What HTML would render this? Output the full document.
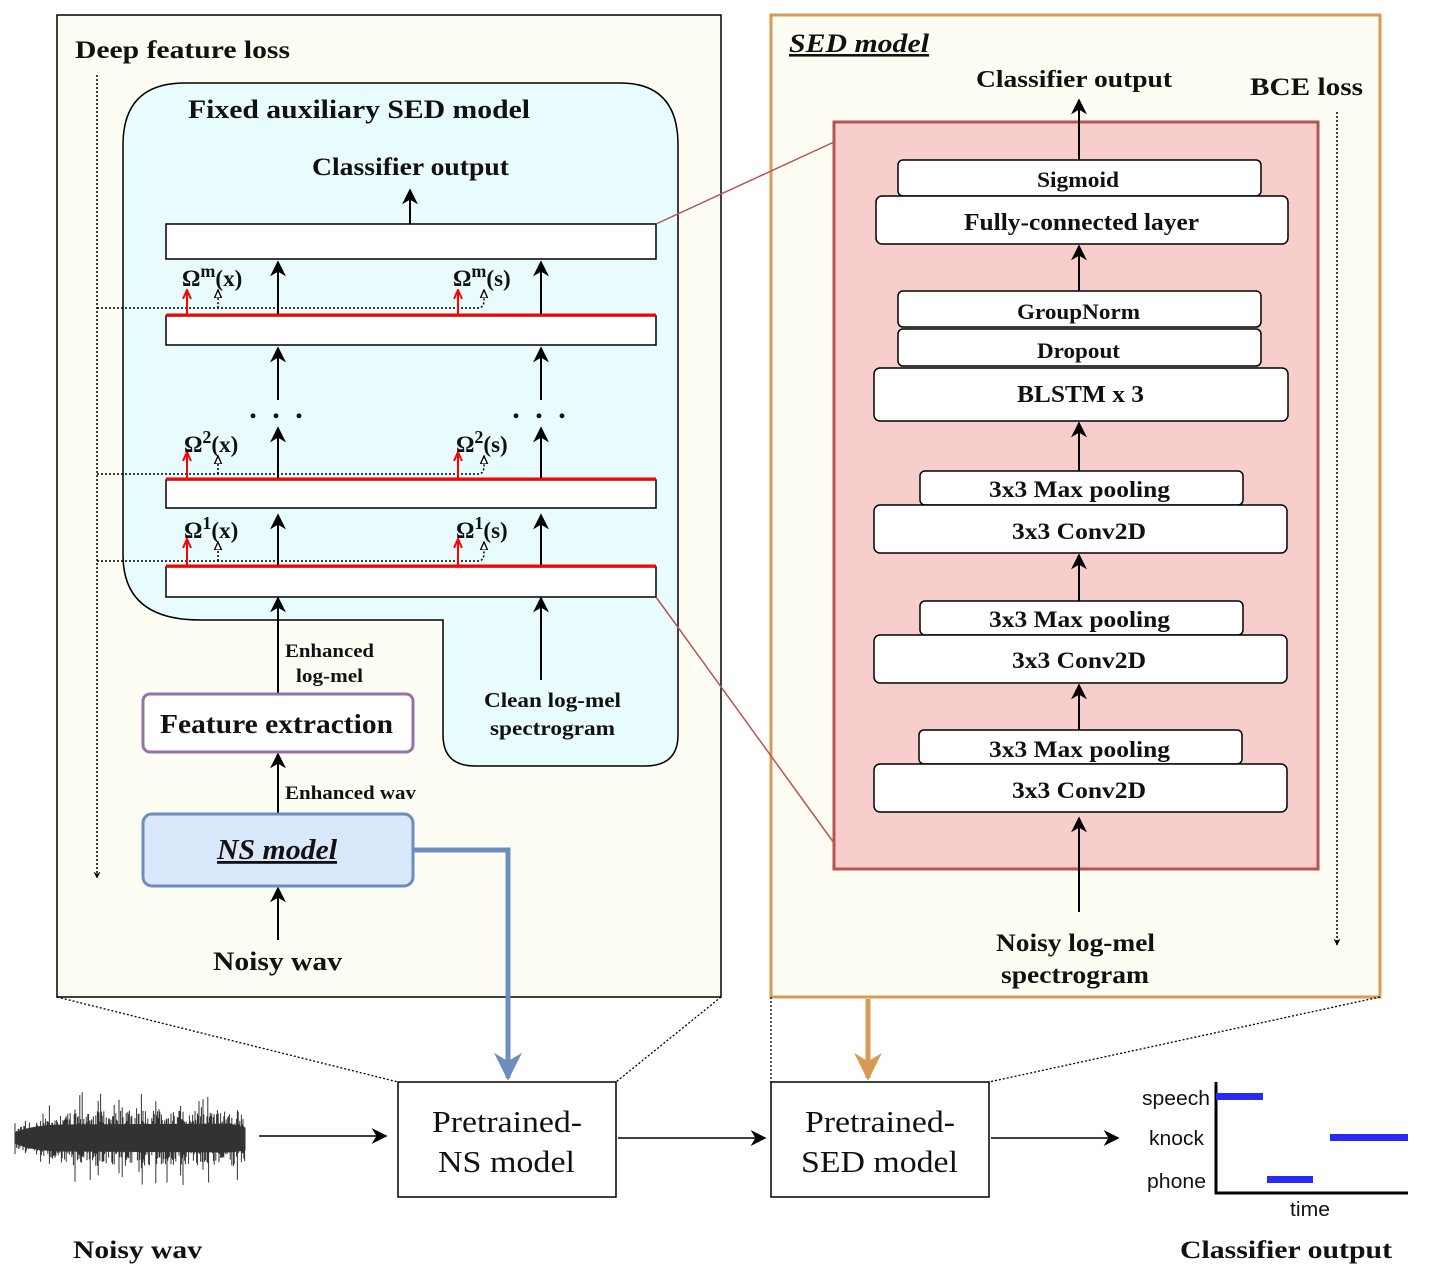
<!DOCTYPE html>
<html><head><meta charset="utf-8"><style>
html,body{margin:0;padding:0;background:#fff}
svg{display:block}
text{font-family:"Liberation Serif",serif;font-weight:bold;fill:#111}
.s{font-family:"Liberation Sans",sans-serif;font-weight:normal}
</style></head><body>
<svg id="sv" width="1432" height="1278" viewBox="0 0 1432 1278" xmlns="http://www.w3.org/2000/svg">
<defs>
<marker id="a" viewBox="0 0 10 10" refX="9" refY="5" markerWidth="7" markerHeight="8" orient="auto" markerUnits="userSpaceOnUse"><path d="M0,0 L10,5 L0,10 L3,5z" fill="#000"/></marker>
<marker id="ab" viewBox="0 0 10 10" refX="9" refY="5" markerWidth="18" markerHeight="16" orient="auto" markerUnits="userSpaceOnUse"><path d="M0,0 L10,5 L0,10 L3,5z" fill="#000"/></marker>
<marker id="ar" viewBox="0 0 10 10" refX="9" refY="5" markerWidth="10" markerHeight="10" orient="auto" markerUnits="userSpaceOnUse"><path d="M0,1 L9,5 L0,9" fill="none" stroke="#f00" stroke-width="2"/></marker>
<marker id="ad" viewBox="0 0 10 10" refX="9" refY="5" markerWidth="9" markerHeight="9" orient="auto" markerUnits="userSpaceOnUse"><path d="M0,1 L9,5 L0,9z" fill="#fff" stroke="#000" stroke-width="1.5"/></marker>
<marker id="blue" viewBox="0 0 10 10" refX="9" refY="5" markerWidth="28" markerHeight="28" orient="auto" markerUnits="userSpaceOnUse"><path d="M0,0 L10,5 L0,10 L3,5z" fill="#6c8ebf"/></marker>
<marker id="org" viewBox="0 0 10 10" refX="9" refY="5" markerWidth="28" markerHeight="28" orient="auto" markerUnits="userSpaceOnUse"><path d="M0,0 L10,5 L0,10 L3,5z" fill="#d79b56"/></marker>
</defs>

<!-- left panel -->
<rect x="57" y="15" width="664" height="982" fill="#fdfdf3" stroke="#000" stroke-width="1.5"/>
<text x="75" y="58" font-size="25" textLength="215" lengthAdjust="spacingAndGlyphs">Deep feature loss</text>
<path d="M123,145 Q123,83 185,83 L620,83 Q678,83 678,145 L678,735 Q678,766 645,766 L475,766 Q443,766 443,735 L443,620 L200,620 Q123,620 123,555 Z" fill="#e8fbfd" stroke="#000" stroke-width="1.5"/>
<text x="188" y="118" font-size="26" textLength="342" lengthAdjust="spacingAndGlyphs">Fixed auxiliary SED model</text>
<text x="312" y="175" font-size="25" textLength="197" lengthAdjust="spacingAndGlyphs">Classifier output</text>
<line x1="410" y1="224" x2="410" y2="190" stroke="#000" stroke-width="2" marker-end="url(#ab)"/>

<rect x="166" y="224" width="490" height="35" fill="#fff" stroke="#000" stroke-width="1.5"/>
<rect x="166" y="316" width="490" height="29" fill="#fff" stroke="#000" stroke-width="1.5"/>
<rect x="166" y="480" width="490" height="28" fill="#fff" stroke="#000" stroke-width="1.5"/>
<rect x="166" y="567" width="490" height="30" fill="#fff" stroke="#000" stroke-width="1.5"/>
<g stroke="#f00" stroke-width="3"><line x1="166" y1="315" x2="656" y2="315"/><line x1="166" y1="479" x2="656" y2="479"/><line x1="166" y1="566" x2="656" y2="566"/></g>

<g stroke="#000" stroke-width="1.5" stroke-dasharray="2,2" fill="none">
<line x1="97" y1="75" x2="97" y2="878" marker-end="url(#a)"/>
<path d="M97,308 L478,308 Q484,308 484,300 L484,290" marker-end="url(#ad)"/>
<path d="M218,308 Q218,300 218,290" marker-end="url(#ad)"/>
<path d="M97,474 L478,474 Q484,474 484,466 L484,456" marker-end="url(#ad)"/>
<path d="M218,474 L218,456" marker-end="url(#ad)"/>
<path d="M97,561 L478,561 Q484,561 484,553 L484,542" marker-end="url(#ad)"/>
<path d="M218,561 L218,542" marker-end="url(#ad)"/>
</g>
<g stroke="#f00" stroke-width="2">
<line x1="187" y1="314" x2="187" y2="290" marker-end="url(#ar)"/>
<line x1="458" y1="314" x2="458" y2="290" marker-end="url(#ar)"/>
<line x1="187" y1="478" x2="187" y2="452" marker-end="url(#ar)"/>
<line x1="458" y1="478" x2="458" y2="452" marker-end="url(#ar)"/>
<line x1="187" y1="565" x2="187" y2="539" marker-end="url(#ar)"/>
<line x1="458" y1="565" x2="458" y2="539" marker-end="url(#ar)"/>
</g>
<g stroke="#000" stroke-width="2">
<line x1="278" y1="314" x2="278" y2="262" marker-end="url(#ab)"/>
<line x1="541" y1="314" x2="541" y2="262" marker-end="url(#ab)"/>
<line x1="278" y1="400" x2="278" y2="348" marker-end="url(#ab)"/>
<line x1="541" y1="400" x2="541" y2="348" marker-end="url(#ab)"/>
<line x1="278" y1="478" x2="278" y2="428" marker-end="url(#ab)"/>
<line x1="541" y1="478" x2="541" y2="428" marker-end="url(#ab)"/>
<line x1="278" y1="565" x2="278" y2="515" marker-end="url(#ab)"/>
<line x1="541" y1="565" x2="541" y2="515" marker-end="url(#ab)"/>
<line x1="278" y1="694" x2="278" y2="598" marker-end="url(#ab)"/>
<line x1="541" y1="680" x2="541" y2="598" marker-end="url(#ab)"/>
<line x1="278" y1="814" x2="278" y2="754" marker-end="url(#ab)"/>
<line x1="278" y1="940" x2="278" y2="888" marker-end="url(#ab)"/>
</g>
<text x="278" y="418" font-size="30" text-anchor="middle" letter-spacing="4">. . .</text>
<text x="541" y="418" font-size="30" text-anchor="middle" letter-spacing="4">. . .</text>
<g font-size="23">
<text x="182" y="286">Ω<tspan font-size="18" dy="-9">m</tspan><tspan dy="9">(x)</tspan></text>
<text x="453" y="286">Ω<tspan font-size="18" dy="-9">m</tspan><tspan dy="9">(s)</tspan></text>
<text x="184" y="452">Ω<tspan font-size="18" dy="-9">2</tspan><tspan dy="9">(x)</tspan></text>
<text x="456" y="452">Ω<tspan font-size="18" dy="-9">2</tspan><tspan dy="9">(s)</tspan></text>
<text x="184" y="538">Ω<tspan font-size="18" dy="-9">1</tspan><tspan dy="9">(x)</tspan></text>
<text x="456" y="538">Ω<tspan font-size="18" dy="-9">1</tspan><tspan dy="9">(s)</tspan></text>
</g>
<text x="285" y="657" font-size="19" textLength="89" lengthAdjust="spacingAndGlyphs">Enhanced</text>
<text x="296" y="682" font-size="19" textLength="67" lengthAdjust="spacingAndGlyphs">log-mel</text>
<text x="484" y="707" font-size="21" textLength="137" lengthAdjust="spacingAndGlyphs">Clean log-mel</text>
<text x="490" y="735" font-size="21" textLength="125" lengthAdjust="spacingAndGlyphs">spectrogram</text>
<rect x="143" y="694" width="270" height="58" rx="7" fill="#fff" stroke="#9673a6" stroke-width="3"/>
<text x="160" y="733" font-size="27" textLength="233" lengthAdjust="spacingAndGlyphs">Feature extraction</text>
<text x="285" y="799" font-size="19" textLength="131" lengthAdjust="spacingAndGlyphs">Enhanced wav</text>
<rect x="143" y="814" width="270" height="72" rx="9" fill="#dae8fc" stroke="#6c8ebf" stroke-width="3"/>
<text x="217" y="859" font-size="28" font-style="italic" text-decoration="underline" textLength="120" lengthAdjust="spacingAndGlyphs">NS model</text>
<text x="213" y="970" font-size="26" textLength="129" lengthAdjust="spacingAndGlyphs">Noisy wav</text>

<!-- right panel -->
<rect x="771" y="15" width="609" height="982" fill="#fdfdf3" stroke="#d79b56" stroke-width="3"/>
<text x="789" y="52" font-size="26" font-style="italic" text-decoration="underline" textLength="140" lengthAdjust="spacingAndGlyphs">SED model</text>
<text x="976" y="87" font-size="24" textLength="196" lengthAdjust="spacingAndGlyphs">Classifier output</text>
<text x="1250" y="95" font-size="25" textLength="113" lengthAdjust="spacingAndGlyphs">BCE loss</text>
<line x1="1337" y1="112" x2="1337" y2="945" stroke="#000" stroke-width="1.5" stroke-dasharray="2,2" marker-end="url(#a)"/>
<rect x="834" y="122" width="484" height="747" fill="#f8cecc" stroke="#b85450" stroke-width="3"/>
<line x1="656" y1="224" x2="834" y2="142" stroke="#b85450" stroke-width="1.5"/>
<line x1="656" y1="597" x2="834" y2="843" stroke="#b85450" stroke-width="1.5"/>
<g stroke="#000" stroke-width="2">
<line x1="1079" y1="160" x2="1079" y2="100" marker-end="url(#ab)"/>
<line x1="1079" y1="291" x2="1079" y2="246" marker-end="url(#ab)"/>
<line x1="1079" y1="471" x2="1079" y2="423" marker-end="url(#ab)"/>
<line x1="1079" y1="601" x2="1079" y2="555" marker-end="url(#ab)"/>
<line x1="1079" y1="730" x2="1079" y2="685" marker-end="url(#ab)"/>
<line x1="1079" y1="912" x2="1079" y2="818" marker-end="url(#ab)"/>
</g>
<g fill="#fff" stroke="#000" stroke-width="1.5">
<rect x="898" y="160" width="363" height="36" rx="5"/>
<rect x="876" y="196" width="412" height="48" rx="6"/>
<rect x="898" y="291" width="363" height="36" rx="5"/>
<rect x="898" y="329" width="363" height="37" rx="5"/>
<rect x="874" y="368" width="414" height="53" rx="6"/>
<rect x="920" y="471" width="323" height="34" rx="5"/>
<rect x="874" y="505" width="413" height="48" rx="6"/>
<rect x="920" y="601" width="323" height="34" rx="5"/>
<rect x="874" y="635" width="413" height="48" rx="6"/>
<rect x="919" y="730" width="323" height="34" rx="5"/>
<rect x="874" y="764" width="413" height="48" rx="6"/>
</g>
<g font-size="22">
<text x="1037" y="187" textLength="82" lengthAdjust="spacingAndGlyphs">Sigmoid</text>
<text x="964" y="230" font-size="24" textLength="235" lengthAdjust="spacingAndGlyphs">Fully-connected layer</text>
<text x="1017" y="319" textLength="123" lengthAdjust="spacingAndGlyphs">GroupNorm</text>
<text x="1037" y="358" textLength="83" lengthAdjust="spacingAndGlyphs">Dropout</text>
<text x="1017" y="402" font-size="24" textLength="127" lengthAdjust="spacingAndGlyphs">BLSTM x 3</text>
<text x="989" y="497" font-size="23" textLength="181" lengthAdjust="spacingAndGlyphs">3x3 Max pooling</text>
<text x="1012" y="539" font-size="23" textLength="134" lengthAdjust="spacingAndGlyphs">3x3 Conv2D</text>
<text x="989" y="627" font-size="23" textLength="181" lengthAdjust="spacingAndGlyphs">3x3 Max pooling</text>
<text x="1012" y="668" font-size="23" textLength="134" lengthAdjust="spacingAndGlyphs">3x3 Conv2D</text>
<text x="989" y="757" font-size="23" textLength="181" lengthAdjust="spacingAndGlyphs">3x3 Max pooling</text>
<text x="1012" y="798" font-size="23" textLength="134" lengthAdjust="spacingAndGlyphs">3x3 Conv2D</text>
</g>
<text x="996" y="951" font-size="25" textLength="159" lengthAdjust="spacingAndGlyphs">Noisy log-mel</text>
<text x="1001" y="983" font-size="25" textLength="148" lengthAdjust="spacingAndGlyphs">spectrogram</text>

<path d="M413,850 L508,850 L508,1078" fill="none" stroke="#6c8ebf" stroke-width="5" marker-end="url(#blue)"/>
<line x1="868" y1="999" x2="868" y2="1078" stroke="#d79b56" stroke-width="5" marker-end="url(#org)"/>

<g stroke="#000" stroke-width="1.3" stroke-dasharray="2,2">
<line x1="57" y1="997" x2="398" y2="1082"/>
<line x1="721" y1="997" x2="616" y2="1082"/>
<line x1="771" y1="997" x2="771" y2="1082"/>
<line x1="1380" y1="997" x2="989" y2="1082"/>
</g>

<rect x="398" y="1082" width="218" height="115" fill="#fff" stroke="#000" stroke-width="1.5"/>
<text x="432" y="1132" font-size="31" style="font-weight:normal" textLength="150" lengthAdjust="spacingAndGlyphs">Pretrained-</text>
<text x="438" y="1172" font-size="31" style="font-weight:normal" textLength="137" lengthAdjust="spacingAndGlyphs">NS model</text>
<rect x="771" y="1082" width="218" height="115" fill="#fff" stroke="#000" stroke-width="1.5"/>
<text x="805" y="1132" font-size="31" style="font-weight:normal" textLength="150" lengthAdjust="spacingAndGlyphs">Pretrained-</text>
<text x="801" y="1172" font-size="31" style="font-weight:normal" textLength="157" lengthAdjust="spacingAndGlyphs">SED model</text>
<g stroke="#000" stroke-width="1.5">
<line x1="259" y1="1136" x2="386" y2="1136" marker-end="url(#ab)"/>
<line x1="618" y1="1138" x2="765" y2="1138" marker-end="url(#ab)"/>
<line x1="991" y1="1138" x2="1118" y2="1138" marker-end="url(#ab)"/>
</g>
<g id="wave" stroke="#000" stroke-width="1" opacity="0.8"></g>
<text x="73" y="1258" font-size="25" textLength="129" lengthAdjust="spacingAndGlyphs">Noisy wav</text>

<path d="M1216,1082 L1216,1193 L1408,1193" fill="none" stroke="#000" stroke-width="3"/>
<g fill="#2a2af5"><rect x="1216" y="1093" width="47" height="7"/><rect x="1330" y="1134" width="78" height="7"/><rect x="1267" y="1176" width="46" height="7"/></g>
<text class="s" x="1142" y="1105" font-size="20" textLength="68" lengthAdjust="spacingAndGlyphs">speech</text>
<text class="s" x="1149" y="1145" font-size="20" textLength="55" lengthAdjust="spacingAndGlyphs">knock</text>
<text class="s" x="1147" y="1188" font-size="20" textLength="59" lengthAdjust="spacingAndGlyphs">phone</text>
<text class="s" x="1290" y="1216" font-size="20" textLength="40" lengthAdjust="spacingAndGlyphs">time</text>
<text x="1180" y="1258" font-size="25" textLength="212" lengthAdjust="spacingAndGlyphs">Classifier output</text>
</svg>
<script>
(function(){var g=document.getElementById('wave');var s=12345;function r(){s=(s*16807)%2147483647;return s/2147483647;}
var d='';for(var x=15;x<245;x+=0.8){var t=(x-15)/230;var env=10+18*Math.min(1,t*4);var sp=r()<0.15?1.7:1;var a=env*sp*(0.2+0.8*r());var b=env*sp*(0.2+0.8*r());d+='M'+x.toFixed(1)+','+(1138-a).toFixed(1)+'L'+x.toFixed(1)+','+(1138+b).toFixed(1);}
var p=document.createElementNS('http://www.w3.org/2000/svg','path');p.setAttribute('d',d);g.appendChild(p);
var q=document.createElementNS('http://www.w3.org/2000/svg','path');q.setAttribute('d','M15,1133 Q30,1126 60,1125 L230,1124 L245,1128 L245,1150 L230,1152 L60,1151 Q30,1150 15,1143Z');q.setAttribute('fill','#000');g.appendChild(q);})();
</script>
</body></html>
